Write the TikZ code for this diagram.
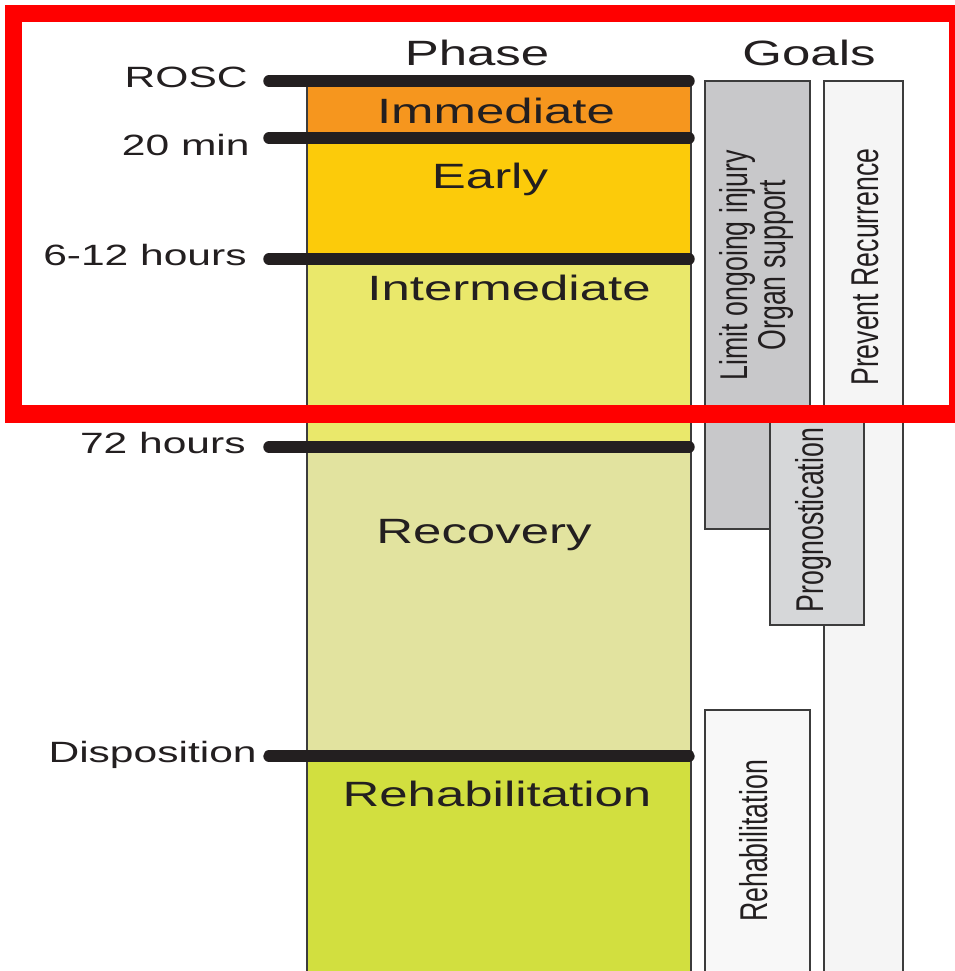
\documentclass[tikz,border=0pt]{standalone}
\usepackage{fontspec}
\setmainfont{Liberation Sans}
\usepackage{graphicx}
\usepackage{xcolor}
\usetikzlibrary{positioning}

\definecolor{immediate}{HTML}{F6961E}
\definecolor{early}{HTML}{FCCB0A}
\definecolor{intermediate}{HTML}{EAE86B}
\definecolor{recovery}{HTML}{E2E39F}
\definecolor{rehab}{HTML}{D2DF3F}
\definecolor{limitgray}{HTML}{C8C8CA}
\definecolor{proggray}{HTML}{D6D7D9}
\definecolor{paleA}{HTML}{F5F5F5}
\definecolor{paleB}{HTML}{F8F8F8}
\definecolor{ink}{HTML}{231F20}
\definecolor{edge}{HTML}{3C3C3C}

\newcommand{\wide}[1]{\scalebox{1.45}[1]{#1}}
\newcommand{\tall}[1]{\scalebox{1}[1.45]{#1}}

\tikzset{
  tick/.style={line width=6.5pt, line cap=round, color=ink},
  band/.style={draw=edge, line width=0.8pt},
  goalbox/.style={draw=edge, line width=1.1pt},
  head/.style={font=\fontsize{20}{20}\selectfont, text=ink, anchor=base},
  timelbl/.style={font=\fontsize{16.7}{17}\selectfont, text=ink, anchor=base east, inner sep=0pt},
  goallbl/.style={rotate=90, font=\fontsize{15.2}{14}\selectfont, text=ink, inner sep=0pt}
}

\begin{document}
\begin{tikzpicture}[x=0.02cm, y=-0.02cm]
  \useasboundingbox (0,0) rectangle (955,971);
  \fill[white] (0,0) rectangle (955,971);

  \draw[band, fill=immediate]    (307,81)  rectangle (691,138);
  \draw[band, fill=early]        (307,138) rectangle (691,259);
  \draw[band, fill=intermediate] (307,259) rectangle (691,447);
  \draw[band, fill=recovery]     (307,447) rectangle (691,756);
  \draw[band, fill=rehab]        (307,756) rectangle (691,990);

  \draw[goalbox, fill=limitgray] (705,81)  rectangle (810,529);
  \draw[goalbox, fill=paleA]     (824,81)  rectangle (903,990);
  \draw[goalbox, fill=paleB]     (705,710) rectangle (810,990);
  \draw[goalbox, fill=proggray]  (770,414) rectangle (864,625);

  \draw[tick] (269,81)  -- (689,81);
  \draw[tick] (269,138) -- (689,138);
  \draw[tick] (269,259) -- (689,259);
  \draw[tick] (269,447) -- (689,447);
  \draw[tick] (269,756) -- (689,756);

  \draw
  node[head] (phase) at (477,65){\wide{Phase}}
  node[head] (goals) at (809,65){\wide{Goals}}
  node[timelbl] (rosc)   at (248,87) {\wide{ROSC}}
  node[timelbl] (twenty) at (250,155){\wide{20 min}}
  node[timelbl] (sixtw)  at (247,265){\wide{6-12 hours}}
  node[timelbl] (seventy) at (246,453){\wide{72 hours}}
  node[timelbl] (dispo)  at (257,762){\wide{Disposition}}
  node[head] (immediate)    at (496,123){\wide{Immediate}}
  node[head] (early)        at (490,188){\wide{Early}}
  node[head] (intermediate) at (509,300){\wide{Intermediate}}
  node[head] (recovery)     at (484,543){\wide{Recovery}}
  node[head] (rehabphase)   at (497,806){\wide{Rehabilitation}};

  \draw
  node[goallbl] (limit)   at (758,265){\tall{\begin{tabular}{@{}c@{}}Limit ongoing injury\\Organ support\end{tabular}}}
  node[goallbl] (prevent) at (865,267){\tall{Prevent Recurrence}}
  node[goallbl] (prognos) at (813,520){\tall{Prognostication}}
  node[goallbl] (rehabgoal) at (754,841){\tall{Rehabilitation}};

  \draw[red, line width=9.7pt] (13.5,13.5) rectangle (958,414);
\end{tikzpicture}
\end{document}
